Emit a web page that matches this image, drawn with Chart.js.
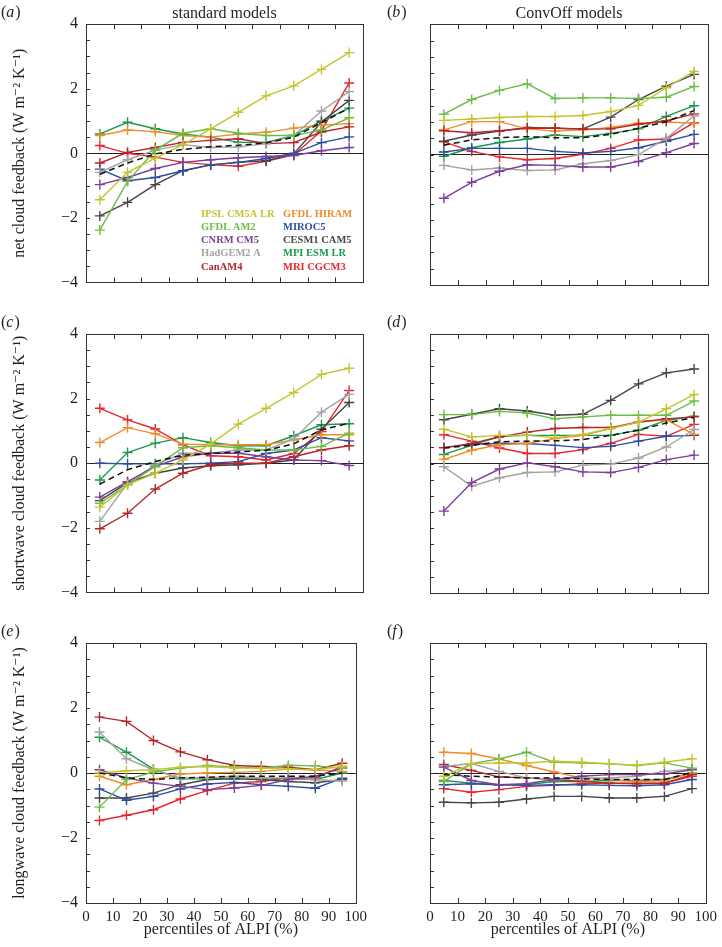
<!DOCTYPE html>
<html>
<head>
<meta charset="utf-8">
<script src="https://cdn.jsdelivr.net/npm/chart.js@4"></script>
<style>
  body { margin: 0; background: #fff; }
  #wrap { position: relative; width: 722px; height: 947px; }
  canvas { position: absolute; }
</style>
</head>
<body>
<div id="wrap">
  <canvas id="pa" width="372" height="300" style="left:0;top:0"></canvas>
  <canvas id="pb" width="350" height="300" style="left:372px;top:0"></canvas>
  <canvas id="pc" width="372" height="310" style="left:0;top:300px"></canvas>
  <canvas id="pd" width="350" height="310" style="left:372px;top:300px"></canvas>
  <canvas id="pe" width="372" height="337" style="left:0;top:610px"></canvas>
  <canvas id="pf" width="350" height="337" style="left:372px;top:610px"></canvas>
</div>
<script>
// percentiles of ALPI (bin centres)
const pct = [5, 15, 25, 35, 45, 55, 65, 75, 85, 95];
const models = ['IPSL CM5A LR', 'GFDL AM2', 'CNRM CM5', 'HadGEM2 A', 'CanAM4',
                'GFDL HIRAM', 'MIROC5', 'CESM1 CAM5', 'MPI ESM LR', 'MRI CGCM3'];
const colors = ['#c3c430', '#6cbd45', '#7d3f98', '#a3a3a3', '#b5262b',
                '#f28c28', '#2e4da0', '#454545', '#1b9a4c', '#e8262d'];
const yTicks = [-4, -2, 0, 2, 4];

// (a) net, standard models  (rows in the order of models)
const netStd = [
  [-1.44, -0.59, -0.15, 0.27, 0.76, 1.27, 1.78, 2.09, 2.6, 3.12],
  [-2.38, -0.87, 0.1, 0.62, 0.76, 0.62, 0.55, 0.55, 0.72, 1.1],
  [-0.97, -0.75, -0.47, -0.28, -0.2, -0.14, -0.1, -0.07, 0.08, 0.18],
  [-0.59, -0.2, 0.1, 0.27, 0.18, 0.2, 0.3, 0.55, 1.31, 1.91],
  [-0.3, 0.03, 0.18, 0.34, 0.4, 0.45, 0.3, 0.33, 0.66, 0.82],
  [0.55, 0.72, 0.67, 0.55, 0.5, 0.6, 0.65, 0.78, 0.87, 0.92],
  [-0.49, -0.85, -0.75, -0.54, -0.36, -0.28, -0.16, 0, 0.33, 0.51],
  [-1.94, -1.52, -0.97, -0.54, -0.36, -0.28, -0.23, -0.02, 0.97, 1.64],
  [0.6, 0.96, 0.76, 0.6, 0.5, 0.34, 0.34, 0.55, 1.0, 1.4],
  [0.24, 0.0, -0.12, -0.28, -0.35, -0.4, -0.25, -0.05, 0.7, 2.18]
];
const netStdMean = [-0.65, -0.3, -0.02, 0.12, 0.2, 0.25, 0.32, 0.5, 0.95, 1.4];

// (b) net, ConvOff models
const netOff = [
  [1.05, 1.09, 1.14, 1.17, 1.17, 1.2, 1.32, 1.51, 2.05, 2.55],
  [1.24, 1.69, 1.97, 2.17, 1.72, 1.74, 1.74, 1.72, 1.76, 2.09],
  [-1.34, -0.85, -0.51, -0.31, -0.33, -0.38, -0.38, -0.21, 0.06, 0.34],
  [-0.33, -0.47, -0.41, -0.49, -0.47, -0.28, -0.18, 0, 0.5, 1.19],
  [0.73, 0.67, 0.73, 0.81, 0.81, 0.78, 0.79, 0.93, 1.04, 1.25],
  [0.76, 1.01, 1.01, 0.79, 0.72, 0.76, 0.83, 0.96, 1.0, 0.96],
  [0.08, 0.19, 0.19, 0.19, 0.1, 0.05, 0.1, 0.21, 0.41, 0.62],
  [0.41, 0.6, 0.72, 0.83, 0.81, 0.79, 1.15, 1.69, 2.1, 2.46],
  [-0.05, 0.21, 0.37, 0.48, 0.6, 0.55, 0.65, 0.79, 1.17, 1.5],
  [0.39, 0.1, -0.07, -0.16, -0.12, 0.01, 0.19, 0.45, 0.48, 0.98]
];
const netOffMean = [0.29, 0.45, 0.52, 0.55, 0.52, 0.52, 0.62, 0.81, 1.01, 1.35];

// (c) shortwave, standard models
const swStd = [
  [-1.36, -0.67, -0.31, 0.1, 0.59, 1.21, 1.7, 2.19, 2.75, 2.94],
  [-1.24, -0.67, -0.1, 0.48, 0.54, 0.48, 0.41, 0.41, 0.52, 0.93],
  [-1.05, -0.57, -0.1, 0.2, 0.31, 0.31, 0.2, 0.1, 0.08, -0.07],
  [-1.8, -0.62, -0.05, 0.31, 0.31, 0.41, 0.41, 0.75, 1.58, 2.13],
  [-2.03, -1.55, -0.8, -0.31, -0.05, 0.0, 0.0, 0.2, 0.41, 0.54],
  [0.64, 1.1, 0.91, 0.59, 0.57, 0.57, 0.57, 0.72, 0.88, 0.88],
  [0, -0.02, -0.02, -0.02, 0, 0.05, 0.3, 0.41, 0.79, 0.69],
  [-1.16, -0.6, -0.31, -0.15, -0.08, -0.05, 0, 0.1, 1.05, 1.88],
  [-0.52, 0.33, 0.62, 0.79, 0.64, 0.54, 0.54, 0.85, 1.19, 1.22],
  [1.7, 1.34, 1.06, 0.57, 0.23, 0.2, 0.1, 0.3, 0.98, 2.25]
];
const swStdMean = [-0.65, -0.2, 0.05, 0.25, 0.3, 0.35, 0.4, 0.6, 1.03, 1.24];

// (d) shortwave, ConvOff models
const swOff = [
  [1.06, 0.82, 0.87, 0.87, 0.8, 0.9, 1.08, 1.28, 1.69, 2.13],
  [1.51, 1.51, 1.61, 1.56, 1.38, 1.44, 1.49, 1.49, 1.49, 1.93],
  [-1.47, -0.59, -0.17, 0.02, -0.1, -0.26, -0.28, -0.12, 0.12, 0.26],
  [-0.1, -0.7, -0.44, -0.28, -0.26, -0.05, -0.02, 0.17, 0.51, 1.05],
  [0.49, 0.62, 0.82, 0.97, 1.08, 1.11, 1.11, 1.28, 1.38, 1.44],
  [0.13, 0.41, 0.58, 0.62, 0.77, 0.87, 1.08, 1.28, 1.35, 0.9],
  [0.49, 0.59, 0.62, 0.62, 0.56, 0.49, 0.53, 0.69, 0.84, 0.87],
  [1.35, 1.52, 1.69, 1.62, 1.49, 1.52, 1.95, 2.46, 2.8, 2.92],
  [0.28, 0.56, 0.84, 0.87, 0.87, 0.87, 0.87, 1.03, 1.33, 1.46],
  [0.89, 0.69, 0.48, 0.31, 0.31, 0.43, 0.62, 0.9, 0.84, 1.21]
];
const swOffMean = [0.48, 0.56, 0.67, 0.69, 0.7, 0.74, 0.87, 1.03, 1.25, 1.42];

// (e) longwave, standard models
const lwStd = [
  [0, 0.07, 0.1, 0.18, 0.2, 0.15, 0.15, 0.12, 0.1, 0.2],
  [-1.05, -0.2, 0.03, 0.15, 0.23, 0.18, 0.15, 0.24, 0.22, 0.15],
  [0.1, -0.15, -0.31, -0.41, -0.51, -0.46, -0.38, -0.2, -0.1, 0.15],
  [1.26, 0.44, 0.1, -0.15, -0.15, -0.1, -0.15, -0.15, -0.2, -0.25],
  [1.72, 1.59, 1.0, 0.65, 0.41, 0.23, 0.2, 0.18, 0.1, 0.3],
  [-0.1, -0.36, -0.2, -0.03, 0, 0.02, 0.05, 0.12, 0.1, 0.05],
  [-0.49, -0.84, -0.72, -0.49, -0.34, -0.29, -0.36, -0.41, -0.47, -0.16],
  [-0.77, -0.77, -0.62, -0.36, -0.2, -0.18, -0.2, -0.26, -0.3, -0.2],
  [1.1, 0.64, 0.12, -0.18, -0.18, -0.15, -0.15, -0.18, -0.2, 0],
  [-1.46, -1.3, -1.13, -0.8, -0.54, -0.31, -0.26, -0.15, -0.15, 0.2]
];
const lwStdMean = [0.0, -0.15, -0.2, -0.15, -0.13, -0.1, -0.1, -0.1, -0.1, 0.0];

// (f) longwave, ConvOff models
const lwOff = [
  [-0.1, 0.29, 0.31, 0.31, 0.36, 0.33, 0.29, 0.24, 0.33, 0.44],
  [-0.26, 0.29, 0.43, 0.64, 0.33, 0.31, 0.28, 0.23, 0.31, 0.15],
  [0.18, -0.23, -0.36, -0.33, -0.2, -0.1, -0.05, -0.05, -0.03, 0.1],
  [0.2, 0.29, 0.05, -0.15, -0.2, -0.15, -0.15, -0.1, 0.05, 0.12],
  [0.26, 0.08, -0.12, -0.15, -0.2, -0.26, -0.31, -0.33, -0.31, -0.05],
  [0.64, 0.6, 0.43, 0.23, 0.03, -0.15, -0.2, -0.26, -0.24, 0],
  [-0.36, -0.33, -0.36, -0.38, -0.36, -0.36, -0.38, -0.39, -0.36, -0.2],
  [-0.9, -0.92, -0.9, -0.8, -0.72, -0.72, -0.77, -0.77, -0.72, -0.48],
  [-0.23, -0.31, -0.36, -0.36, -0.26, -0.26, -0.23, -0.23, -0.2, 0],
  [-0.48, -0.59, -0.51, -0.41, -0.38, -0.33, -0.31, -0.31, -0.31, -0.1]
];
const lwOffMean = [-0.05, -0.1, -0.12, -0.15, -0.15, -0.18, -0.2, -0.2, -0.2, 0.02];

const SERIF = '"Liberation Serif", "DejaVu Serif", serif';
const INK = '#231f20';
Chart.defaults.font.family = SERIF;
Chart.defaults.color = INK;

// frame box + inward tick marks
const framePlugin = {
  id: 'frame',
  afterDatasetsDraw(chart) {
    const {ctx, chartArea: a, scales: {x, y}} = chart;
    ctx.save();
    ctx.strokeStyle = '#333';
    ctx.lineWidth = 1;
    ctx.beginPath();
    y.ticks.forEach(t => {
      const py = Math.round(y.getPixelForValue(t.value)) + 0.5;
      ctx.moveTo(a.left, py); ctx.lineTo(a.left + 4, py);
    });
    x.ticks.forEach(t => {
      if (t.value <= 0 || t.value >= 100) return;
      const px = Math.round(x.getPixelForValue(t.value)) + 0.5;
      ctx.moveTo(px, a.top); ctx.lineTo(px, a.top + 5);
      ctx.moveTo(px, a.bottom); ctx.lineTo(px, a.bottom - 5);
    });
    ctx.stroke();
    ctx.strokeRect(Math.round(a.left) + 0.5, Math.round(a.top) + 0.5,
                   Math.round(a.width), Math.round(a.height));
    ctx.restore();
  }
};

function letterPlugin(letter, x, y) {
  return {
    id: 'letter',
    afterDraw(chart) {
      const ctx = chart.ctx;
      ctx.save();
      ctx.fillStyle = INK;
      ctx.textBaseline = 'middle';
      ctx.font = '16px ' + SERIF;
      ctx.fillText('(', x, y);
      let cx = x + ctx.measureText('(').width;
      ctx.font = 'italic 16px ' + SERIF;
      ctx.fillText(letter, cx, y);
      cx += ctx.measureText(letter).width + 1;
      ctx.font = '16px ' + SERIF;
      ctx.fillText(')', cx, y);
      ctx.restore();
    }
  };
}

const legendPlugin = {
  id: 'modelLegend',
  afterDraw(chart) {
    const ctx = chart.ctx;
    ctx.save();
    ctx.font = 'bold 10.5px ' + SERIF;
    ctx.textBaseline = 'middle';
    models.forEach((m, i) => {
      ctx.fillStyle = colors[i];
      ctx.fillText(m, i < 5 ? 201 : 283, 214 + (i % 5) * 13.2);
    });
    ctx.restore();
  }
};

function makePanel(id, series, mean, o) {
  const datasets = models.map((m, i) => ({
    label: m,
    data: pct.map((p, j) => ({x: p, y: series[i][j]})),
    borderColor: colors[i],
    backgroundColor: colors[i],
    borderWidth: 1.4,
    pointStyle: 'cross',
    pointRadius: 5,
    pointBorderWidth: 1.4,
    order: 1
  }));
  datasets.push({
    label: 'multi-model mean',
    data: pct.map((p, j) => ({x: p, y: mean[j]})),
    borderColor: '#111',
    borderWidth: 1.5,
    borderDash: [6, 4],
    pointRadius: 0,
    order: 0
  });

  const plugins = [framePlugin, letterPlugin(o.letter, o.lx, o.ly)];
  if (o.legend) plugins.push(legendPlugin);

  return new Chart(document.getElementById(id), {
    type: 'line',
    data: { datasets },
    plugins,
    options: {
      responsive: false,
      animation: false,
      layout: { padding: { top: o.padTop, right: o.padRight, left: 0, bottom: 0 } },
      plugins: {
        legend: { display: false },
        tooltip: { enabled: false },
        title: {
          display: !!o.title,
          text: o.title || '',
          fullSize: false,
          font: { size: 16, family: SERIF, weight: 'normal' },
          color: INK,
          padding: { top: 4, bottom: 1 }
        }
      },
      scales: {
        x: {
          type: 'linear',
          min: 0, max: 100,
          border: { display: false },
          grid: { display: false, drawTicks: false },
          ticks: {
            display: !!o.xLabels,
            stepSize: 10,
            autoSkip: false,
            maxRotation: 0,
            padding: 5,
            font: { size: 15 }
          },
          title: {
            display: !!o.xLabels,
            text: 'percentiles of ALPI (%)',
            font: { size: 16 },
            padding: { top: 0, bottom: 8 }
          },
          afterFit(s) { s.height = o.xHeight; }
        },
        y: {
          min: -4, max: 4,
          border: { display: false },
          grid: {
            drawTicks: false,
            lineWidth: 1,
            color: c => (c.tick && c.tick.value === 0) ? '#222' : 'rgba(0,0,0,0)'
          },
          ticks: {
            display: !!o.yTitle,
            stepSize: 0.5,
            autoSkip: false,
            padding: 8,
            font: { size: 16 },
            callback: v => yTicks.includes(v) ? (v < 0 ? '\u2212' + Math.abs(v) : String(v)) : ''
          },
          title: {
            display: !!o.yTitle,
            text: o.yTitle || '',
            font: { size: 16 },
            padding: { top: 10, bottom: 0 }
          },
          afterFit(s) { s.width = o.yWidth; }
        }
      }
    }
  });
}

const unit = ' (W m\u207B\u00B2 K\u207B\u00B9)';
const leftCol = { yWidth: 86, padRight: 9, lx: 1 };
const rightCol = { yWidth: 58, padRight: 14, lx: 15 };

makePanel('pa', netStd, netStdMean, { ...leftCol, letter: 'a', ly: 13, padTop: 0, xHeight: 15,
  title: 'standard models', yTitle: 'net cloud feedback' + unit, legend: true });
makePanel('pb', netOff, netOffMean, { ...rightCol, letter: 'b', ly: 13, padTop: 0, xHeight: 15,
  title: 'ConvOff models' });
makePanel('pc', swStd, swStdMean, { ...leftCol, letter: 'c', ly: 23, padTop: 34, xHeight: 17,
  yTitle: 'shortwave cloud feedback' + unit });
makePanel('pd', swOff, swOffMean, { ...rightCol, letter: 'd', ly: 23, padTop: 34, xHeight: 17 });
makePanel('pe', lwStd, lwStdMean, { ...leftCol, letter: 'e', ly: 22, padTop: 33, xHeight: 44,
  yTitle: 'longwave cloud feedback' + unit, xLabels: true });
makePanel('pf', lwOff, lwOffMean, { ...rightCol, letter: 'f', ly: 22, padTop: 33, xHeight: 44,
  xLabels: true });
</script>
</body>
</html>
